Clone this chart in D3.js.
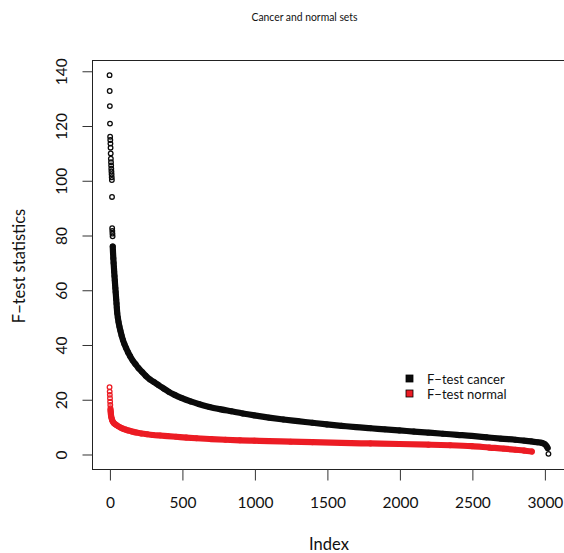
<!DOCTYPE html>
<html>
<head>
<meta charset="utf-8">
<script src="https://cdn.jsdelivr.net/npm/d3@7"></script>
<style>
  html, body { margin: 0; padding: 0; background: #fff; }
  svg { display: block; font-family: Lato, "Open Sans", sans-serif; }
</style>
</head>
<body>
<svg id="chart" width="564" height="553"></svg>
<script>
// Sorted F-test statistics (rank index -> statistic) for the two sets.
// Isolated circles at the top of the cancer curve and its last value.
const cancerLooseIdx = [1, 2, 3, 4, 5, 6, 7, 8, 9, 10, 11, 12, 13, 14, 15, 16, 17, 18, 19, 20, 21, 22, 3028];
const cancerLooseF   = [138.4, 132.6, 127.1, 120.7, 115.9, 114.7, 113.4, 111.9, 109.8, 107.9, 106.6, 105.4,
                        104.2, 103.2, 102.2, 101.1, 100.1, 93.9, 82.5, 81.5, 80.5, 79.5, 0.05];
// Continuous run of the cancer curve.
const cancerBandIdx = [23, 25, 27, 29, 31, 33, 35, 37, 39, 41, 43, 45, 47, 49, 51, 54, 58, 63, 69, 76, 84, 93,
                       103, 115, 128, 143, 160, 180, 200, 225, 250, 280, 310, 340, 375, 410, 450, 500, 560, 620,
                       690, 760, 840, 920, 1000, 1100, 1200, 1300, 1400, 1500, 1600, 1700, 1800, 1900, 2000, 2100,
                       2200, 2300, 2400, 2500, 2600, 2700, 2800, 2860, 2910, 2950, 2985, 3005, 3015, 3022];
const cancerBandF   = [75.8, 73.5, 71.5, 69.8, 68.2, 66.6, 65.0, 63.5, 62.0, 60.6, 59.2, 57.8, 56.4, 55.0, 53.4,
                       51.5, 49.8, 48.2, 46.6, 45.0, 43.3, 41.7, 40.2, 38.7, 37.2, 35.7, 34.2, 32.8, 31.4, 30.0,
                       28.6, 27.2, 26.2, 25.1, 23.9, 22.7, 21.6, 20.4, 19.2, 18.2, 17.2, 16.4, 15.6, 14.8, 14.1,
                       13.3, 12.6, 12.0, 11.4, 10.8, 10.3, 9.8, 9.4, 9.0, 8.6, 8.2, 7.8, 7.4, 7.0, 6.6, 6.1, 5.6,
                       5.2, 4.9, 4.6, 4.3, 4.0, 3.5, 2.9, 2.2];
// Normal set: separate circles at the top, then the continuous run.
const normalLooseIdx = [1, 2, 3, 4, 5, 6, 7];
const normalLooseF   = [24.4, 22.8, 21.6, 20.4, 19.1, 17.9, 16.7];
const normalBandIdx = [8, 9, 10, 12, 14, 17, 20, 25, 32, 40, 50, 62, 76, 92, 110, 130, 155, 185, 220, 260, 300,
                       350, 400, 460, 530, 600, 700, 800, 900, 1000, 1100, 1250, 1400, 1600, 1800, 2000, 2200,
                       2350, 2500, 2620, 2720, 2800, 2860, 2913];
const normalBandF   = [16.0, 15.3, 14.6, 13.9, 13.3, 12.7, 12.2, 11.7, 11.2, 10.9, 10.5, 10.1, 9.7, 9.3, 8.95,
                       8.6, 8.2, 7.85, 7.5, 7.2, 6.95, 6.75, 6.55, 6.3, 6.0, 5.75, 5.45, 5.2, 5.0, 4.85, 4.7,
                       4.5, 4.3, 4.05, 3.85, 3.65, 3.4, 3.2, 2.85, 2.35, 1.95, 1.55, 1.25, 0.9];

const xTicks = [0, 500, 1000, 1500, 2000, 2500, 3000];
const yTicks = [0, 20, 40, 60, 80, 100, 120, 140];
const legendLabels = ["F\u2212test cancer", "F\u2212test normal"];
const seriesColors = ["#0b0b0b", "#ec1c24"];

const svg = d3.select("#chart");
const plot = { left: 92, right: 566, top: 60, bottom: 469 };

// R-style 4% padding around the data range
function padded(ext) {
  const p = (ext[1] - ext[0]) * 0.04;
  return [ext[0] - p, ext[1] + p];
}
const allIdx = cancerLooseIdx.concat(cancerBandIdx, normalLooseIdx, normalBandIdx);
const allF = cancerLooseF.concat(cancerBandF, normalLooseF, normalBandF);
const x = d3.scaleLinear().domain(padded(d3.extent(allIdx))).range([plot.left, plot.right]);
const y = d3.scaleLinear().domain(padded(d3.extent(allF))).range([plot.bottom, plot.top]);

svg.append("rect").attr("width", 564).attr("height", 553).attr("fill", "#fff");

// Title
svg.append("text")
  .attr("x", 304.5).attr("y", 21)
  .attr("text-anchor", "middle")
  .attr("font-size", 10.5)
  .attr("textLength", 106).attr("lengthAdjust", "spacingAndGlyphs")
  .attr("fill", "#111")
  .text("Cancer and normal sets");

// Points
function drawSeries(looseIdx, looseF, bandIdx, bandF, color) {
  const g = svg.append("g");
  const band = bandIdx.map((d, i) => [d, bandF[i]]);
  g.append("path")
    .datum(band)
    .attr("fill", "none")
    .attr("stroke", color)
    .attr("stroke-width", 6.2)
    .attr("stroke-linecap", "round")
    .attr("stroke-linejoin", "round")
    .attr("d", d3.line().x(d => x(d[0])).y(d => y(d[1])).curve(d3.curveMonotoneX));
  const loose = looseIdx.map((d, i) => [d, looseF[i]]);
  g.selectAll("circle.pt")
    .data(loose.concat(band))
    .join("circle")
    .attr("class", "pt")
    .attr("cx", d => x(d[0]))
    .attr("cy", d => y(d[1]))
    .attr("r", 2.3)
    .attr("fill", "none")
    .attr("stroke", color)
    .attr("stroke-width", 1.3);
}
drawSeries(normalLooseIdx, normalLooseF, normalBandIdx, normalBandF, seriesColors[1]);
drawSeries(cancerLooseIdx, cancerLooseF, cancerBandIdx, cancerBandF, seriesColors[0]);

// Plot frame
svg.append("rect")
  .attr("x", plot.left + 0.5).attr("y", plot.top + 0.5)
  .attr("width", plot.right - plot.left).attr("height", plot.bottom - plot.top)
  .attr("fill", "none").attr("stroke", "#222").attr("stroke-width", 1);

// Axes
const xAxis = svg.append("g")
  .attr("transform", `translate(0.5,${plot.bottom + 0.5})`)
  .call(d3.axisBottom(x).tickValues(xTicks).tickFormat(d3.format("d")).tickSize(11));
xAxis.select(".domain").remove();
xAxis.selectAll("line").attr("stroke", "#333");
xAxis.selectAll("text")
  .attr("y", 38).attr("dy", null)
  .attr("font-size", 15.5).attr("fill", "#111")
  .attr("font-family", "Lato, 'Open Sans', sans-serif");

const yAxis = svg.append("g")
  .attr("transform", `translate(${plot.left + 0.5},0.5)`)
  .call(d3.axisLeft(y).tickValues(yTicks).tickFormat(d3.format("d")).tickSize(10));
yAxis.select(".domain").remove();
yAxis.selectAll("line").attr("stroke", "#333");
yAxis.selectAll("text")
  .attr("transform", "rotate(-90)")
  .attr("x", 0).attr("y", -26).attr("dy", null)
  .attr("text-anchor", "middle")
  .attr("font-size", 15.5).attr("fill", "#111")
  .attr("font-family", "Lato, 'Open Sans', sans-serif");

// Axis titles
svg.append("text")
  .attr("x", (plot.left + plot.right) / 2).attr("y", 550)
  .attr("text-anchor", "middle")
  .attr("font-size", 16.5).attr("fill", "#111")
  .text("Index");
svg.append("text")
  .attr("transform", `translate(25,266) rotate(-90)`)
  .attr("text-anchor", "middle")
  .attr("font-size", 16.5).attr("fill", "#111")
  .text("F\u2212test statistics");

// Legend
const legend = svg.append("g").attr("transform", "translate(406,375)");
legendLabels.forEach((label, i) => {
  const row = legend.append("g").attr("transform", `translate(0,${i * 15})`);
  row.append("rect")
    .attr("x", 0).attr("y", 0).attr("width", 7).attr("height", 7)
    .attr("fill", seriesColors[i]).attr("stroke", "#000").attr("stroke-width", 0.8);
  row.append("text")
    .attr("x", 21).attr("y", 8.5)
    .attr("font-size", 13).attr("fill", "#111")
    .text(label);
});
</script>
</body>
</html>
